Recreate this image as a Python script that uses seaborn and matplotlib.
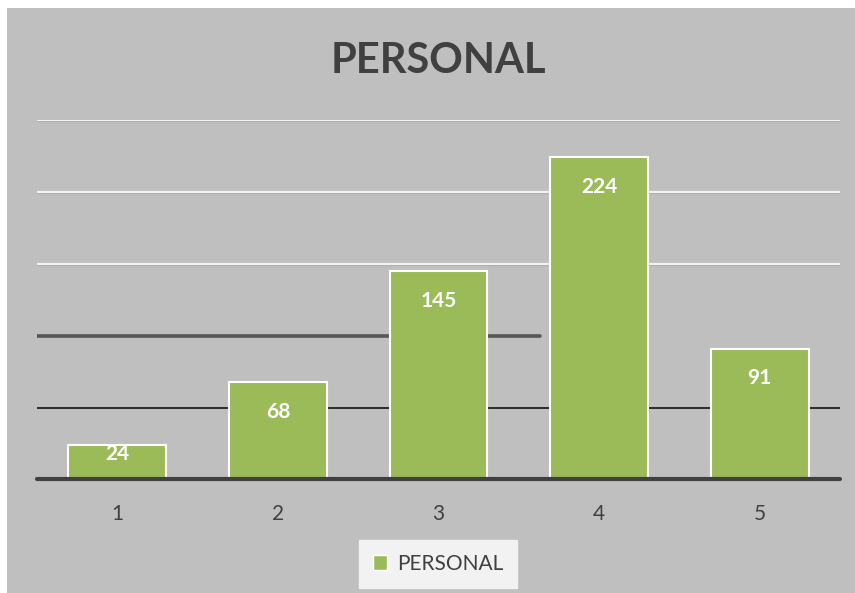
import matplotlib
matplotlib.use("Agg")
import matplotlib.pyplot as plt
from matplotlib.patches import Rectangle
import seaborn as sns
import pandas as pd

# Chart data
categories = ["1", "2", "3", "4", "5"]
values = [24, 68, 145, 224, 91]
series_name = "PERSONAL"
title = "PERSONAL"

BG = "#BFBFBF"
GREEN = "#9BBB59"
TEXT = "#404040"

sns.set_theme(style="white")
plt.rcParams["font.family"] = ["Lato", "DejaVu Sans"]

df = pd.DataFrame({"cat": categories, "val": values})

fig = plt.figure(figsize=(8.55, 5.93), dpi=100, facecolor="white")
fig.patches.append(Rectangle((7 / 855, 0), 1, 585 / 593, transform=fig.transFigure,
                             facecolor=BG, edgecolor="none", zorder=-5))

ax = fig.add_axes([37 / 855, 113 / 593, 803 / 855, 360 / 593])
ax.set_facecolor("none")

# Horizontal gridlines
for y in (150, 200, 250):
    ax.axhline(y, color="#F2F2F2", lw=1.6, zorder=0.5)
    ax.axhline(y - 0.9, color="#A8A8A8", lw=0.8, zorder=0.4)
ax.axhline(100, xmin=0, xmax=503 / 803, color="#555555", lw=2.6, zorder=0.5)
ax.axhline(50, color="#111111", lw=1.2, zorder=0.5)

sns.barplot(data=df, x="cat", y="val", color=GREEN, width=0.61,
            edgecolor="white", linewidth=1.5, saturation=1, ax=ax, zorder=2)

# Category axis line
ax.axhline(0.6, color="#404040", lw=3.0, zorder=3, clip_on=False)

ax.set_xlim(-0.5, len(categories) - 0.5)
ax.set_ylim(0, 250)
ax.set_yticks([])
ax.set_xlabel("")
ax.set_ylabel("")
for s in ax.spines.values():
    s.set_visible(False)
ax.tick_params(axis="x", length=0, pad=17, labelsize=15, labelcolor=TEXT)

# Value labels inside the bar ends
for i, v in enumerate(values):
    ax.text(i, max(v - 20.5, 18.0), str(v), ha="center", va="center",
            color="white", fontsize=15, fontweight="bold", zorder=4)

fig.text(438 / 855, 1 - 61 / 593, title, ha="center", va="center",
         fontsize=30, fontweight="bold", color=TEXT)

handle = Rectangle((0, 0), 1, 1, facecolor=GREEN, edgecolor="white", linewidth=1)
leg = fig.legend([handle], [series_name], loc="center",
                 bbox_to_anchor=(438 / 855, 1 - 564 / 593), frameon=True,
                 fontsize=15, handlelength=0.7, handleheight=0.7,
                 handletextpad=0.45, borderpad=0.65, borderaxespad=0,
                 fancybox=False)
leg.get_frame().set_facecolor("#F2F2F2")
leg.get_frame().set_edgecolor("#F2F2F2")
leg.get_frame().set_alpha(1)
for t in leg.get_texts():
    t.set_color(TEXT)

fig.savefig("out.png", dpi=100, facecolor=fig.get_facecolor())
